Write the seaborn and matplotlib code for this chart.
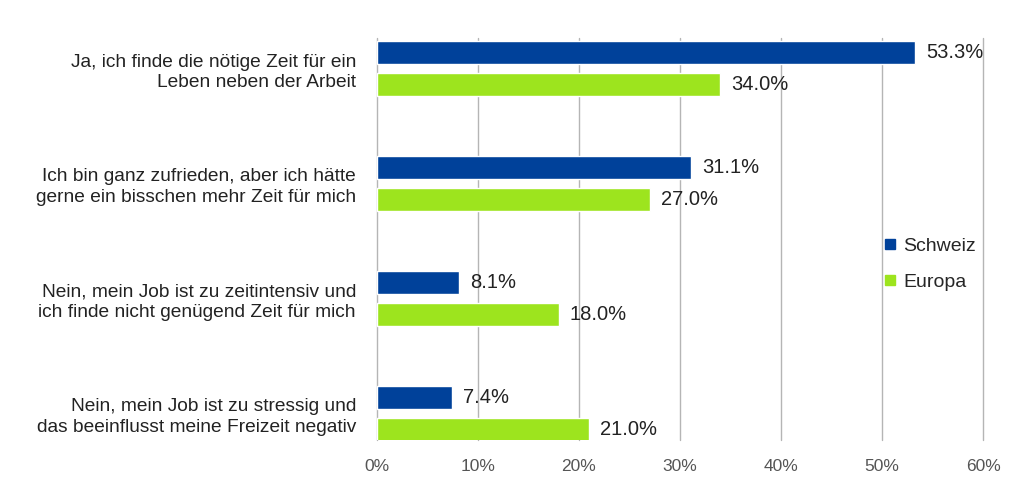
import numpy as np
import pandas as pd
import matplotlib
matplotlib.use("Agg")
import matplotlib.pyplot as plt
import seaborn as sns
from matplotlib.lines import Line2D

# --- Data ---
categories = [
    "Ja, ich finde die nötige Zeit für ein\nLeben neben der Arbeit",
    "Ich bin ganz zufrieden, aber ich hätte\ngerne ein bisschen mehr Zeit für mich",
    "Nein, mein Job ist zu zeitintensiv und\nich finde nicht genügend Zeit für mich",
    "Nein, mein Job ist zu stressig und\ndas beeinflusst meine Freizeit negativ",
]
schweiz = [53.3, 31.1, 8.1, 7.4]
europa = [34.0, 27.0, 18.0, 21.0]
series_names = ["Schweiz", "Europa"]
x_ticks = [0, 10, 20, 30, 40, 50, 60]

COLORS = {"Schweiz": "#00419a", "Europa": "#9de41e"}

df = pd.DataFrame({
    "Antwort": categories * 2,
    "Region": [series_names[0]] * len(categories) + [series_names[1]] * len(categories),
    "Wert": schweiz + europa,
})

sns.set_theme(style="white")
plt.rcParams["font.family"] = ["Liberation Sans", "DejaVu Sans"]

fig = plt.figure(figsize=(10.24, 4.95), dpi=100)
ax = fig.add_axes([0.368, 0.111, 0.592, 0.812])

sns.barplot(
    data=df, y="Antwort", x="Wert", hue="Region", order=categories,
    hue_order=series_names, palette=COLORS, orient="h",
    width=0.556, gap=0.28, ax=ax, legend=False, saturation=1,
)

for cont in ax.containers:
    ax.bar_label(cont, labels=[f"{v:.1f}%" for v in cont.datavalues],
                 padding=8, fontsize=14.5, color="#222222")

ax.set_xlim(0, 60)
ax.set_ylim(3.235, -0.265)
ax.set_xticks(x_ticks)
ax.set_xticklabels([f"{t}%" for t in x_ticks], fontsize=12.5, color="#555555")
ax.tick_params(axis="x", length=0, pad=14)
ax.tick_params(axis="y", length=0, pad=15, labelsize=13.8, labelcolor="#222222")
for lbl in ax.get_yticklabels():
    lbl.set_horizontalalignment("right")
    lbl.set_multialignment("right")
    lbl.set_linespacing(1.3)
ax.set_xlabel("")
ax.set_ylabel("")
ax.xaxis.grid(True, color="#b5b5b5", linewidth=1.0)
for gl in ax.xaxis.get_gridlines():
    gl.set_clip_on(False)
ax.set_axisbelow(True)
for s in ax.spines.values():
    s.set_visible(False)

handles = [Line2D([0], [0], marker="s", linestyle="", markersize=7,
                  markerfacecolor=COLORS[n], markeredgecolor=COLORS[n]) for n in series_names]
ax.legend(handles, series_names, loc="center left", bbox_to_anchor=(0.804, 0.438),
          frameon=False, fontsize=14, handletextpad=0.3, labelspacing=0.95,
          handlelength=0.8)

fig.savefig("out.png", dpi=100)
